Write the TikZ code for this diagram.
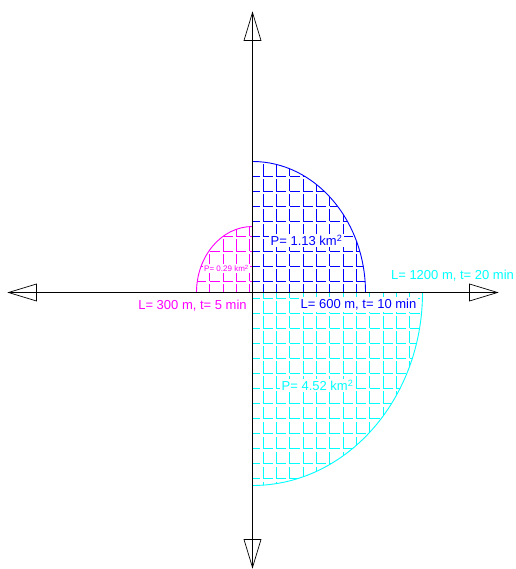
\documentclass[tikz,border=0pt]{standalone}
\usepackage{fontspec}
\setmainfont{Liberation Sans}
\definecolor{areamagenta}{rgb}{1.0, 0.0, 1.0}
\definecolor{areablue}{rgb}{0.0, 0.0, 1.0}
\definecolor{areacyan}{rgb}{0.0, 1.0, 1.0}
\tikzset{
	hatch/.style={line width=0.9pt},
	hatchup/.style={hatch,dash pattern=on 12pt off 3pt},
	hatchacross/.style={hatch,dash pattern=on 10pt off 3.34pt},
	rim/.style={line width=0.9pt},
	axisline/.style={line width=0.9pt,black},
	lbl/.style={font=\fontsize{13}{15}\selectfont,inner sep=1.5pt},
	axhead/.pic={\draw[line width=0.7pt,line join=miter] (0,0) -- (-28,8.5) -- (-28,-8.5) -- cycle;}
}
\newcommand{\sqkm}{km\textsuperscript{2}}

\begin{document}
\begin{tikzpicture}[x=1pt,y=1pt]
					\useasboundingbox (-252.5,-276.5) rectangle (262.5,292.5);
					\coordinate (origin) at (0,0);
					\coordinate (smallend) at (-56,0);
					\coordinate (midend) at (113,0);
					\coordinate (largeend) at (170,0);
					\coordinate (axleft) at (-244,0);
					\coordinate (axright) at (245,0);
					\coordinate (axtop) at (0,280);
					\coordinate (axbottom) at (0,-275);
					% hatched areas
					\begin{scope}[areamagenta]
						\clip (origin) -- (smallend) arc[start angle=180,end angle=90,x radius=56,y radius=66] -- cycle;
						\foreach \i in {-6,...,0}
							\draw[hatchup] ({10.5+13.34*\i},-4) -- ++(0,80);
						\foreach \k in {-1,...,5}
							\draw[hatchacross] ({10.5-13.34*6},{11+15*\k}) -- ++(90,0);
					\end{scope}
					\begin{scope}[areablue]
						\clip (origin) -- (midend) arc[start angle=0,end angle=90,x radius=113,y radius=131] -- cycle;
						\foreach \i in {-1,...,8}
							\draw[hatchup] ({10.5+13.34*\i},-4) -- ++(0,140);
						\foreach \k in {-1,...,8}
							\draw[hatchacross] ({10.5-13.34},{11+15*\k}) -- ++(130,0);
					\end{scope}
					\begin{scope}[areacyan]
						\clip (origin) -- (largeend) arc[start angle=0,end angle=-90,x radius=170,y radius=193] -- cycle;
						\foreach \i in {-1,...,13}
							\draw[hatchup] ({10.5+13.34*\i},{-6-15*14}) -- ++(0,225);
						\foreach \k in {-1,...,13}
							\draw[hatchacross] ({10.5-13.34},{-6-15*\k}) -- ++(190,0);
					\end{scope}
					\draw[rim,areamagenta] (smallend) arc[start angle=180,end angle=90,x radius=56,y radius=66];
					\draw[rim,areablue] (midend) arc[start angle=0,end angle=90,x radius=113,y radius=131];
					\draw[rim,areacyan] (largeend) arc[start angle=0,end angle=-90,x radius=170,y radius=193];
					% axes
					\draw[axisline] (axleft) -- (axright);
					\draw[axisline] (axbottom) -- (axtop);
					\pic at (axright) {axhead};
					\pic[rotate=180] at (axleft) {axhead};
					\pic[rotate=90] at (axtop) {axhead};
					\pic[rotate=-90] at (axbottom) {axhead};
					% labels
					\node[lbl,areamagenta,fill=white,font=\fontsize{8}{9}\selectfont,inner sep=1pt] (areasmall) at (-26,24) {P= 0.29 \sqkm};
					\node[lbl,areablue,fill=white] (areamid) at (54,52) {P= 1.13 \sqkm};
					\node[lbl,areacyan,fill=white] (arealarge) at (65,-93) {P= 4.52 \sqkm};
					\node[lbl,areamagenta] (lensmall) at (-60,-13) {L= 300 m, t= 5 min};
					\node[lbl,areablue,fill=white] (lenmid) at (106,-12) {L= 600 m, t= 10 min};
					\node[lbl,areacyan] (lenlarge) at (200,17) {L= 1200 m, t= 20 min};
				\end{tikzpicture}
\end{document}
